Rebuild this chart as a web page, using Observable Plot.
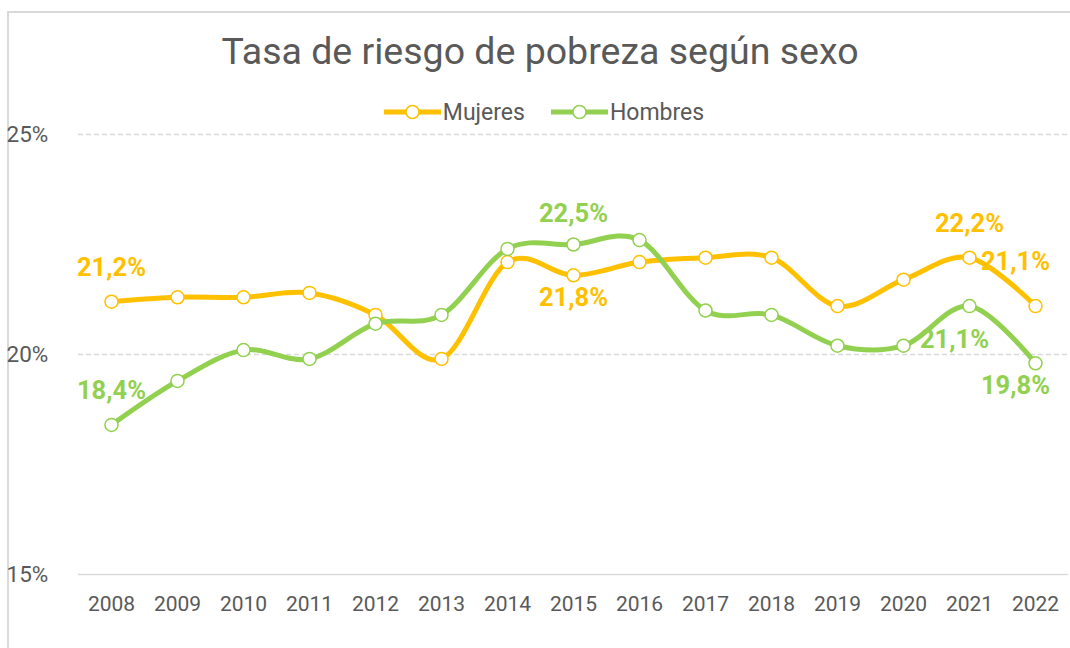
<!DOCTYPE html>
<html>
<head>
<meta charset="utf-8">
<script src="https://cdn.jsdelivr.net/npm/d3@7"></script>
<script src="https://cdn.jsdelivr.net/npm/@observablehq/plot@0.6"></script>
<style>
  html, body { margin: 0; padding: 0; background: #fff; overflow: hidden; }
  #wrap { position: relative; width: 1070px; height: 648px; font-family: Roboto, "Noto Sans", sans-serif; overflow: hidden; }
  #frame { position: absolute; left: 7px; top: 11px; width: 1100px; height: 700px; border: 2px solid #d9d9d9; box-sizing: border-box; pointer-events: none; }
  #chart { position: absolute; left: 0; top: 0; }
  #chart svg { display: block; }
  #title { position: absolute; left: 0; top: 0; width: 1070px; box-sizing: border-box; padding-top: 31px; line-height: 40px; text-align: center; font-size: 37.5px; color: #595959; padding-left: 10px; }
  #legend { position: absolute; left: 0; top: 96px; width: 1070px; height: 32px; display: flex; justify-content: center; align-items: center; gap: 26px; font-size: 23px; color: #595959; padding-left: 18px; box-sizing: border-box; }
  .item { display: flex; align-items: center; gap: 2px; }
</style>
</head>
<body>
<div id="wrap">
  <div id="frame"></div>
  <div id="chart"></div>
  <div id="title">Tasa de riesgo de pobreza según sexo</div>
  <div id="legend"></div>
</div>
<script>
const years = [2008, 2009, 2010, 2011, 2012, 2013, 2014, 2015, 2016, 2017, 2018, 2019, 2020, 2021, 2022];
const mujeres = [21.2, 21.3, 21.3, 21.4, 20.9, 19.9, 22.1, 21.8, 22.1, 22.2, 22.2, 21.1, 21.7, 22.2, 21.1];
const hombres = [18.4, 19.4, 20.1, 19.9, 20.7, 20.9, 22.4, 22.5, 22.6, 21.0, 20.9, 20.2, 20.2, 21.1, 19.8];
const seriesNames = ["Mujeres", "Hombres"];
const seriesColors = ["#FFC000", "#92D050"];
const yTicks = [15, 20, 25];

const fmt = v => v.toFixed(1).replace(".", ",") + "%";
const M = years.map((y, i) => ({year: String(y), value: mujeres[i], serie: "Mujeres"}));
const H = years.map((y, i) => ({year: String(y), value: hombres[i], serie: "Hombres"}));

// legend
const legend = document.getElementById("legend");
seriesNames.forEach((name, i) => {
  const el = document.createElement("div");
  el.className = "item";
  el.innerHTML = `<svg width="57" height="16"><line x1="0" y1="8" x2="57" y2="8" stroke="${seriesColors[i]}" stroke-width="5" stroke-linecap="round"/><circle cx="28.5" cy="8" r="6.5" fill="#fff" stroke="${seriesColors[i]}" stroke-width="1.5"/></svg><span>${name}</span>`;
  legend.appendChild(el);
});

const pick = (arr, ys) => arr.filter(d => ys.includes(+d.year));
const labelStyle = {text: d => fmt(d.value), fontSize: 25.5, fontWeight: "bold", fontFamily: "Roboto, sans-serif"};

const chart = Plot.plot({
  width: 1070,
  height: 648,
  marginTop: 134,
  marginBottom: 74,
  marginLeft: 78,
  marginRight: 2,
  style: {fontFamily: "Roboto, sans-serif", fontSize: "20px", color: "#595959", background: "transparent"},
  x: {type: "point", domain: years.map(String), padding: 0.5, label: null},
  y: {domain: [15, 25], ticks: yTicks, tickFormat: d => d + "%", label: null},
  marks: [
    Plot.ruleY([20, 25], {stroke: "#d9d9d9", strokeWidth: 1.3, strokeDasharray: "5,3"}),
    Plot.ruleY([15], {stroke: "#d9d9d9", strokeWidth: 1.5}),
    Plot.axisY({ticks: yTicks, tickSize: 0, tickFormat: d => d + "%", textAnchor: "start", dx: -63, fill: "#595959", fontSize: 22.5}),
    Plot.axisX({tickSize: 0, tickPadding: 22, fill: "#595959", fontSize: 21}),
    Plot.line(M, {x: "year", y: "value", stroke: seriesColors[0], strokeWidth: 5, curve: "cardinal"}),
    Plot.dot(M, {x: "year", y: "value", r: 6.5, fill: "white", stroke: seriesColors[0], strokeWidth: 1.5}),
    Plot.line(H, {x: "year", y: "value", stroke: seriesColors[1], strokeWidth: 5, curve: "cardinal"}),
    Plot.dot(H, {x: "year", y: "value", r: 6.5, fill: "white", stroke: seriesColors[1], strokeWidth: 1.5}),
    // labels Mujeres
    Plot.text(pick(M, [2008, 2021]), {x: "year", y: "value", ...labelStyle, fill: seriesColors[0], dy: -34}),
    Plot.text(pick(M, [2015]), {x: "year", y: "value", ...labelStyle, fill: seriesColors[0], dy: 23}),
    Plot.text(pick(M, [2022]), {x: "year", y: "value", ...labelStyle, fill: seriesColors[0], dx: -20, dy: -44}),
    // labels Hombres
    Plot.text(pick(H, [2008]), {x: "year", y: "value", ...labelStyle, fill: seriesColors[1], dy: -34}),
    Plot.text(pick(H, [2015]), {x: "year", y: "value", ...labelStyle, fill: seriesColors[1], dy: -31}),
    Plot.text(pick(H, [2021]), {x: "year", y: "value", ...labelStyle, fill: seriesColors[1], dx: -15, dy: 34}),
    Plot.text(pick(H, [2022]), {x: "year", y: "value", ...labelStyle, fill: seriesColors[1], dx: -20, dy: 23})
  ]
});
document.getElementById("chart").appendChild(chart);
</script>
</body>
</html>
